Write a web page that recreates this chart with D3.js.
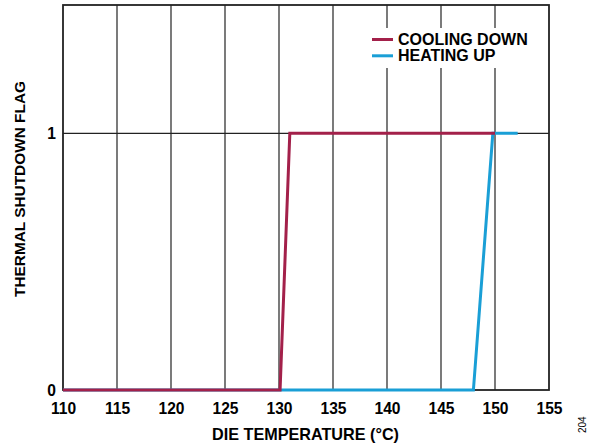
<!DOCTYPE html>
<html><head><meta charset="utf-8">
<script src="https://cdn.jsdelivr.net/npm/d3@7"></script>
<style>body{margin:0;background:#fff}svg{display:block}text{font-family:Arial,"Liberation Sans",sans-serif;fill:#000}</style>
</head><body>
<script>
const xTicks = [110,115,120,125,130,135,140,145,150,155];
const yTicks = [0,1];
const coolingX = [110,130.1,131,150];
const coolingY = [0,0,1,1];
const heatingX = [110,148,149.8,152.1];
const heatingY = [0,0,1,1];
const seriesNames = ["COOLING DOWN","HEATING UP"];
const seriesColors = ["#A3204A","#1A9FD6"];

const W=598,H=446, m={l:63,r:49,t:5,b:56};
const svg=d3.select("body").append("svg").attr("width",W).attr("height",H);
const x=d3.scaleLinear().domain([110,155]).range([m.l,W-m.r]);
const y=d3.scaleLinear().domain([0,1.5]).range([H-m.b,m.t]);

const g=svg.append("g");
g.selectAll(".vg").data(xTicks.slice(1,-1)).join("line")
 .attr("x1",d=>x(d)).attr("x2",d=>x(d)).attr("y1",y(0)).attr("y2",y(1.5))
 .attr("stroke","#222").attr("stroke-width",1.2);
g.append("line").attr("x1",x(110)).attr("x2",x(155)).attr("y1",y(1)).attr("y2",y(1))
 .attr("stroke","#222").attr("stroke-width",1.2);

svg.append("rect").attr("x",365).attr("y",28).attr("width",172).attr("height",40).attr("fill","#fff");

g.append("rect").attr("x",x(110)).attr("y",y(1.5)).attr("width",x(155)-x(110)).attr("height",y(0)-y(1.5))
 .attr("fill","none").attr("stroke","#222").attr("stroke-width",1.8);

const fs="font-weight:bold;font-size:15.6px";
const xa=d3.axisBottom(x).tickValues(xTicks).tickSize(0).tickPadding(13);
const xg=svg.append("g").attr("transform",`translate(0,${y(0)})`).call(xa);
xg.select(".domain").remove();
xg.selectAll("text").attr("style",fs).attr("fill","#000");
const ya=d3.axisLeft(y).tickValues(yTicks).tickFormat(d3.format("d")).tickSize(0).tickPadding(7);
const yg=svg.append("g").attr("transform",`translate(${x(110)},0)`).call(ya);
yg.select(".domain").remove();
yg.selectAll("text").attr("style",fs).attr("fill","#000");
svg.selectAll("g").attr("font-family",null).attr("font-size",null);

const line=d3.line().x(d=>x(d[0])).y(d=>y(d[1]));
const heat=heatingX.map((v,i)=>[v,heatingY[i]]);
const cool=coolingX.map((v,i)=>[v,coolingY[i]]);
svg.append("path").attr("d",line(heat)).attr("fill","none").attr("stroke",seriesColors[1]).attr("stroke-width",3);
svg.append("path").attr("d",line(cool)).attr("fill","none").attr("stroke",seriesColors[0]).attr("stroke-width",3);

const lg=svg.append("g");
seriesNames.forEach((n,i)=>{
  const yy=39.5+i*16.3;
  lg.append("line").attr("x1",372).attr("x2",393).attr("y1",yy).attr("y2",yy).attr("stroke",seriesColors[i]).attr("stroke-width",3);
  lg.append("text").attr("x",398).attr("y",yy+5.5).attr("style","font-weight:bold;font-size:16px").text(n);
});

svg.append("text").attr("x",305.5).attr("y",440).attr("text-anchor","middle").attr("style","font-weight:bold;font-size:16.2px").text("DIE TEMPERATURE (°C)");
svg.append("text").attr("transform",`translate(25,189) rotate(-90)`).attr("text-anchor","middle").attr("style","font-weight:bold;font-size:15.4px").text("THERMAL SHUTDOWN FLAG");
svg.append("text").attr("transform","translate(586,433) rotate(-90)").attr("style","font-weight:normal;font-size:10px").attr("text-anchor","start").text("204");
</script>
</body></html>
